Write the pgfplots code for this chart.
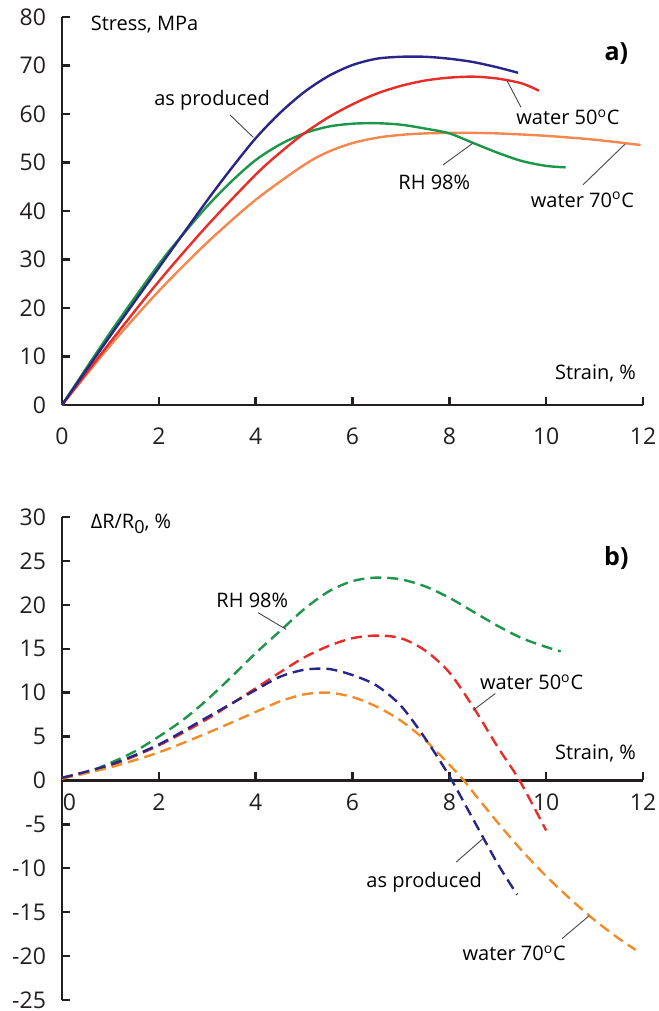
\documentclass[border=0pt]{standalone}
\usepackage{fontspec}
\setmainfont{Open Sans}
\usepackage{pgfplots}
\pgfplotsset{compat=1.18}
\definecolor{cblue}{RGB}{42,38,135}
\definecolor{cred}{RGB}{232,45,40}
\definecolor{cgreen}{RGB}{28,150,72}
\definecolor{corange}{RGB}{244,135,78}
\definecolor{corangeb}{RGB}{242,140,40}
\definecolor{axc}{RGB}{35,31,32}
\definecolor{leader}{RGB}{70,70,70}
\begin{document}
\begin{tikzpicture}[font=\fontsize{10}{12}\selectfont]
\useasboundingbox (-31pt,202.5pt) rectangle (298pt,-303pt);
\pgfplotsset{
  myax/.style={
    scale only axis, width=290.5pt,
    xmin=0, xmax=12,
    axis y line*=left,
    axis line style={line width=1.3pt, axc},
    x axis line style={-},
    y axis line style={-},
    every outer x axis line/.append style={-},
    every inner x axis line/.append style={-},
    every outer y axis line/.append style={-},
    xtick={0,2,...,12},
    tick align=inside, major tick length=4pt,
    tick style={line width=1.2pt, axc},
    /pgf/number format/assume math mode=true,
    ticklabel style={font=\fontsize{11.5}{13}\selectfont, text=axc},
    yticklabel style={xshift=-4.5pt},
    hide obscured x ticks=false, hide obscured y ticks=false,
    clip=false,
  },
  cv/.style={line width=1.2pt, smooth, tension=0.5, no marks},
  cvd/.style={line width=1.2pt, smooth, tension=0.5, no marks, dash pattern=on 5.5pt off 3pt},
}
% ---------------- a) ----------------
\begin{axis}[myax, at={(0,0)}, anchor=south west, height=194pt,
  ymin=0, ymax=80, ytick={0,10,...,80},
  axis x line*=bottom,
  xticklabel style={yshift=-8pt}]
\addplot[cv, corange] coordinates {(0,0) (1,12.3) (2,23.5) (3,33.5) (4,42.3) (5,49.5) (5.5,52.2) (6,54) (6.5,55.1) (7,55.7) (7.5,56) (8,56.1) (8.5,56.1) (9,56) (10,55.5) (11,54.7) (11.95,53.6)};
\addplot[cv, cgreen] coordinates {(0,0) (1,15) (2,29) (2.5,35.2) (3,41) (3.5,46.1) (4,50.5) (4.5,53.7) (5,56) (5.5,57.4) (6,58) (6.5,58.1) (7,57.8) (7.5,57) (8,56) (8.5,54) (9,52) (9.5,50.3) (10,49.3) (10.4,49)};
\addplot[cv, cred] coordinates {(0,0) (1,13) (2,25.5) (3,37) (4,47.5) (4.5,52) (5,56) (5.5,59.3) (6,62) (6.5,64.2) (7,65.8) (7.5,66.9) (8,67.5) (8.5,67.7) (9,67.3) (9.5,66.3) (9.85,64.8)};
\addplot[cv, cblue] coordinates {(0,0) (1,14.3) (2,28.3) (3,42.2) (3.5,48.8) (4,55) (4.5,60.2) (5,64.5) (5.5,67.8) (6,70.1) (6.5,71.4) (7,71.8) (7.5,71.8) (8,71.4) (8.5,70.7) (9,69.6) (9.42,68.5)};
\node[anchor=west] at (axis cs:0.45,78.5) {Stress, MPa};
\node[font=\fontsize{12.5}{14}\bfseries\selectfont] at (axis cs:11.45,72.5) {a)};
\node at (axis cs:3.1,62.9) {as produced};
\draw[leader, line width=0.45pt] (axis cs:3.47,59.8) -- (axis cs:3.95,55.2);
\node at (axis cs:10.45,59.4) {water 50\textsuperscript{o}C};
\draw[leader, line width=0.45pt] (axis cs:9.19,66.9) -- (axis cs:9.48,61.4);
\node at (axis cs:7.69,46) {RH 98\%};
\draw[leader, line width=0.45pt] (axis cs:8.49,54) -- (axis cs:7.87,49.5);
\node at (axis cs:10.75,42.3) {water 70\textsuperscript{o}C};
\draw[leader, line width=0.45pt] (axis cs:11.63,53.8) -- (axis cs:10.76,45.4);
\node[anchor=east] at (axis cs:12,6.6) {Strain, \%};
\end{axis}
% ---------------- b) ----------------
\begin{axis}[myax, at={(0,-297.5pt)}, anchor=south west, height=241.5pt,
  ymin=-25, ymax=30, ytick={-25,-20,...,30},
  axis x line*=middle,
  xticklabels={\makebox[0pt][l]{\hspace{0.5pt}0},2,4,6,8,10,12},
  xticklabel style={yshift=-3pt}]
\addplot[cvd, cgreen] coordinates {(0,0.3) (0.5,0.9) (1,2) (1.5,3.3) (2,5) (2.5,6.9) (3,9.2) (3.5,11.8) (4,14.5) (4.5,17) (5,19.5) (5.5,21.5) (6,22.7) (6.5,23.1) (7,22.9) (7.5,22.1) (8,20.8) (8.5,19.2) (9,17.6) (9.5,16.2) (10,15.2) (10.3,14.7)};
\addplot[cvd, cred] coordinates {(0,0.3) (1,1.7) (2,4) (3,7) (4,10.5) (4.5,12.3) (5,14) (5.5,15.3) (6,16.2) (6.5,16.5) (7,16.2) (7.5,14.8) (8,12.3) (8.5,8.3) (9,3.8) (9.45,0) (10,-5.7)};
\addplot[cvd, corangeb] coordinates {(0,0.2) (1,1.5) (2,3.2) (3,5.4) (4,7.8) (4.5,9) (5,9.8) (5.5,10) (6,9.5) (6.5,8.4) (7,6.8) (7.5,4.6) (8,1.8) (8.3,0) (8.5,-1.4) (9,-4.8) (9.5,-8) (10,-10.9) (10.5,-13.5) (11,-15.9) (11.5,-18) (11.85,-19.3)};
\addplot[cvd, cblue] coordinates {(0,0.3) (1,1.8) (2,4.1) (3,7.2) (4,10.3) (4.5,11.8) (5,12.6) (5.5,12.7) (6,12) (6.5,10.8) (7,8.5) (7.5,4.8) (8,0.5) (8.5,-4.5) (9,-9.5) (9.4,-13)};
\node[anchor=west] at (axis cs:0.45,29.2) {ΔR/R\raisebox{-0.45ex}{\fontsize{9}{10}\selectfont 0}, \%};
\node[font=\fontsize{12.5}{14}\bfseries\selectfont] at (axis cs:11.45,25.3) {b)};
\node at (axis cs:3.93,20.5) {RH 98\%};
\draw[leader, line width=0.45pt] (axis cs:4.05,19.1) -- (axis cs:4.63,17.2);
\node at (axis cs:9.7,11.2) {water 50\textsuperscript{o}C};
\draw[leader, line width=0.45pt] (axis cs:8.95,9.9) -- (axis cs:8.49,8);
\node[anchor=east] at (axis cs:12,3.1) {Strain, \%};
\node at (axis cs:7.48,-11.6) {as produced};
\draw[leader, line width=0.45pt] (axis cs:8.14,-9.3) -- (axis cs:8.72,-6.5);
\node at (axis cs:9.34,-19.7) {water 70\textsuperscript{o}C};
\draw[leader, line width=0.45pt] (axis cs:10.33,-18) -- (axis cs:10.89,-15.4);
\end{axis}
\end{tikzpicture}
\end{document}
